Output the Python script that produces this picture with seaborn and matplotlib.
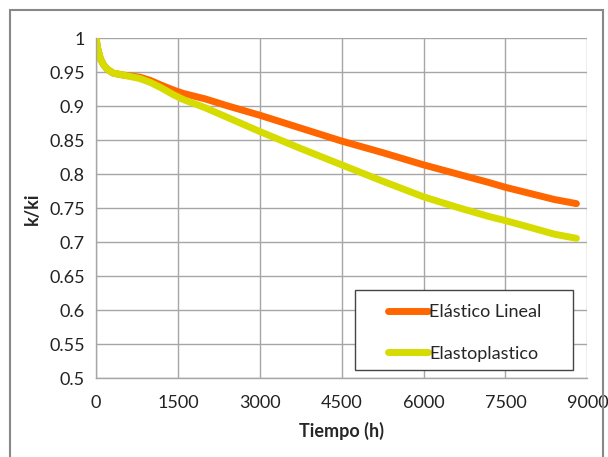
import matplotlib
matplotlib.use("Agg")
import matplotlib.pyplot as plt
import seaborn as sns
import pandas as pd
from matplotlib.patches import Rectangle

tiempo = [0, 30, 80, 130, 200, 310, 500, 800, 1000, 1200, 1420, 1600, 1800,
          2000, 2400, 3000, 3750, 4500, 5250, 6000, 6600, 7200, 7500, 8000,
          8400, 8800]
elastico = [1.0, 0.985, 0.970, 0.962, 0.955, 0.949, 0.946, 0.943, 0.938,
            0.931, 0.924, 0.919, 0.915, 0.911, 0.901, 0.887, 0.868, 0.849,
            0.832, 0.814, 0.801, 0.788, 0.781, 0.771, 0.763, 0.757]
elastoplastico = [1.0, 0.985, 0.970, 0.962, 0.955, 0.949, 0.946, 0.941, 0.935,
                  0.927, 0.917, 0.910, 0.904, 0.898, 0.884, 0.863, 0.838,
                  0.814, 0.790, 0.767, 0.752, 0.738, 0.732, 0.721, 0.712,
                  0.706]
series_names = ["Elástico Lineal", "Elastoplastico"]
x_ticks = [0, 1500, 3000, 4500, 6000, 7500, 9000]
y_ticks = [0.5, 0.55, 0.6, 0.65, 0.7, 0.75, 0.8, 0.85, 0.9, 0.95, 1.0]
y_labels = ["0.5", "0.55", "0.6", "0.65", "0.7", "0.75", "0.8", "0.85", "0.9", "0.95", "1"]

df = pd.concat([
    pd.DataFrame({"Tiempo": tiempo, "k": elastico, "serie": series_names[0]}),
    pd.DataFrame({"Tiempo": tiempo, "k": elastoplastico, "serie": series_names[1]}),
])

sns.set_style("white")
plt.rcParams["font.family"] = ["Lato", "DejaVu Sans"]

fig = plt.figure(figsize=(6.08, 4.57), dpi=100)
ax = fig.add_axes([0.158, 0.172, 0.808, 0.744])

palette = {series_names[0]: "#FF6600", series_names[1]: "#D6DC00"}
sns.lineplot(data=df, x="Tiempo", y="k", hue="serie", palette=palette,
             linewidth=5, ax=ax, solid_capstyle="round",
             solid_joinstyle="round", legend=True)

ax.set_xlim(0, 9000)
ax.set_ylim(0.5, 1.0)
ax.set_xticks(x_ticks)
ax.set_xticklabels([str(v) for v in x_ticks])
ax.set_yticks(y_ticks)
ax.set_yticklabels(y_labels)
ax.grid(True, color="#A6A6A6", linewidth=1)
ax.set_axisbelow(True)
for s in ["top", "right"]:
    ax.spines[s].set_visible(False)
for s in ["left", "bottom"]:
    ax.spines[s].set_color("#A6A6A6")
    ax.spines[s].set_linewidth(1)
ax.tick_params(axis="both", which="major", length=5, width=1, color="#A6A6A6",
               labelsize=13, labelcolor="#222222", direction="out", pad=3)
ax.tick_params(axis="x", pad=7)

ax.set_xlabel("Tiempo (h)", fontsize=13, fontweight="bold", labelpad=8)
ax.set_ylabel("k/ki", fontsize=13, fontweight="bold", labelpad=6)

# legend frame drawn as a separate box
ax.add_patch(Rectangle((0.527, 0.024), 0.444, 0.236, transform=ax.transAxes,
                       facecolor="white", edgecolor="#444444", linewidth=1,
                       zorder=5))
handles, labels = ax.get_legend_handles_labels()
leg = ax.legend(handles, labels, loc="upper left",
                bbox_to_anchor=(0.594, 0.218), fontsize=13, frameon=False,
                handlelength=2.2, handletextpad=0.1, labelspacing=1.4,
                borderpad=0, borderaxespad=0)
leg.set_zorder(6)
for line in leg.get_lines():
    line.set_linewidth(5)
    line.set_solid_capstyle("round")

fig.patches.append(Rectangle((10 / 608, -0.01), 593 / 608, 1 - 10 / 457 + 0.01,
                             transform=fig.transFigure, fill=False,
                             edgecolor="#888888", linewidth=1.5))

fig.savefig("out.png", dpi=100)
